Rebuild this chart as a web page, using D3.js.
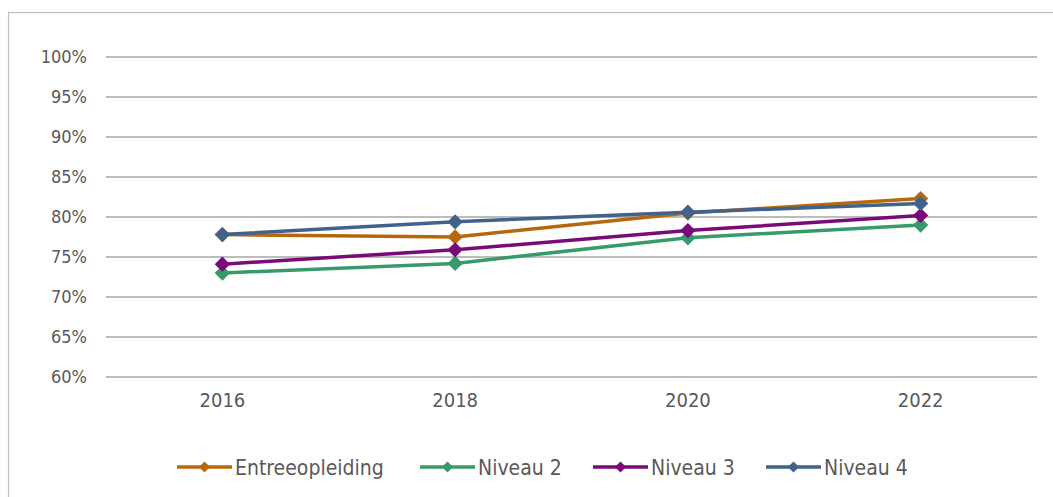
<!DOCTYPE html>
<html>
<head>
<meta charset="utf-8">
<script src="https://cdn.jsdelivr.net/npm/d3@7"></script>
<style>
  body { margin: 0; background: #fff; }
  text { font-family: "DejaVu Sans Condensed", "Liberation Sans Narrow", sans-serif; fill: #595959; }
</style>
</head>
<body>
<div id="chart"></div>
<script>
var years = ["2016", "2018", "2020", "2022"]
var yTicks = [0.60, 0.65, 0.70, 0.75, 0.80, 0.85, 0.90, 0.95, 1.00]
var seriesNames = ["Entreeopleiding", "Niveau 2", "Niveau 3", "Niveau 4"]
var seriesColors = ["#b8680c", "#379a6a", "#7a0a7a", "#41628a"]
var entree = [0.778, 0.775, 0.805, 0.823]
var niveau2 = [0.730, 0.742, 0.774, 0.790]
var niveau3 = [0.741, 0.759, 0.783, 0.802]
var niveau4 = [0.778, 0.794, 0.806, 0.817]
var allSeries = [entree, niveau2, niveau3, niveau4]

var width = 1053, height = 497
var margin = { top: 57, right: 16, bottom: 120, left: 106 }

var svg = d3.select("#chart").append("svg")
    .attr("width", width)
    .attr("height", height)

// outer frame
svg.append("rect")
    .attr("x", 8.5).attr("y", 12.5)
    .attr("width", width + 10).attr("height", height + 10)
    .attr("fill", "none").attr("stroke", "#bfbfbf").attr("stroke-width", 1.2)

var x = d3.scaleBand()
    .domain(years)
    .range([margin.left, width - margin.right])

var y = d3.scaleLinear()
    .domain([0.60, 1.00])
    .range([377, margin.top])

// gridlines
svg.selectAll(".grid")
    .data(yTicks)
    .enter().append("line")
    .attr("x1", margin.left).attr("x2", width - margin.right)
    .attr("y1", function(d) { return y(d) }).attr("y2", function(d) { return y(d) })
    .attr("stroke", "#bcbcbc").attr("stroke-width", 1.8)

var yAxis = svg.append("g")
    .attr("transform", "translate(" + margin.left + ",0)")
    .call(d3.axisLeft(y).tickValues(yTicks).tickFormat(d3.format(".0%")).tickSize(0).tickPadding(19))
yAxis.select(".domain").remove()
yAxis.selectAll("text").attr("font-size", 18).style("font-family", null)

var xAxis = svg.append("g")
    .attr("transform", "translate(0,377)")
    .call(d3.axisBottom(x).tickSize(0).tickPadding(16))
xAxis.select(".domain").remove()
xAxis.selectAll("text").attr("font-size", 20).style("font-family", null)

var line = d3.line()
    .x(function(d, i) { return x(years[i]) + x.bandwidth() / 2 })
    .y(function(d) { return y(d) })

var diamond = d3.symbol().type(d3.symbolDiamond2).size(150)

allSeries.forEach(function(s, k) {
  svg.append("path")
      .datum(s)
      .attr("d", line)
      .attr("fill", "none")
      .attr("stroke", seriesColors[k])
      .attr("stroke-width", 3.5)

  svg.selectAll(".pt" + k)
      .data(s)
      .enter().append("path")
      .attr("d", diamond)
      .attr("transform", function(d, i) {
        return "translate(" + (x(years[i]) + x.bandwidth() / 2) + "," + y(d) + ")"
      })
      .attr("fill", seriesColors[k])
})

// legend
var legendX = [177, 420, 593, 766]
var legend = svg.selectAll(".legend")
    .data(seriesNames)
    .enter().append("g")
    .attr("transform", function(d, i) { return "translate(" + legendX[i] + ",467)" })

legend.append("line")
    .attr("x1", 0).attr("x2", 55).attr("y1", 0).attr("y2", 0)
    .attr("stroke", function(d, i) { return seriesColors[i] })
    .attr("stroke-width", 3.5)

legend.append("path")
    .attr("d", d3.symbol().type(d3.symbolDiamond2).size(80))
    .attr("transform", "translate(27.5,0)")
    .attr("fill", function(d, i) { return seriesColors[i] })

legend.append("text")
    .attr("x", 58).attr("y", 1).attr("dy", "0.35em")
    .attr("font-size", 21)
    .text(function(d) { return d })
</script>
</body>
</html>
